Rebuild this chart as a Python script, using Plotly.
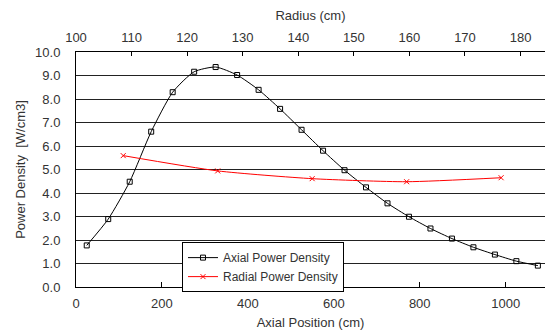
import plotly.graph_objects as go

axial_pos = [25, 75, 125, 175, 225, 275, 325, 375, 425, 475, 525, 575, 625, 675,
             725, 775, 825, 875, 925, 975, 1025, 1075]
axial_pd = [1.77, 2.89, 4.48, 6.61, 8.29, 9.16, 9.36, 9.02, 8.39, 7.58, 6.69, 5.80,
            4.97, 4.24, 3.56, 2.99, 2.49, 2.06, 1.69, 1.38, 1.10, 0.91]
radius = [108.5, 125.5, 142.5, 159.5, 176.5]
radial_pd = [5.59, 4.94, 4.61, 4.48, 4.65]

FONT = "Liberation Sans"
TXT = "#333333"
FS = 13

fig = go.Figure()
fig.add_trace(go.Scatter(
    x=axial_pos, y=axial_pd, name="Axial Power Density", mode="lines+markers",
    line=dict(color="black", width=1, shape="spline", smoothing=0.6),
    marker=dict(symbol="square-open", size=5, color="black", line=dict(width=1)),
    cliponaxis=False, xaxis="x", yaxis="y"))
fig.add_trace(go.Scatter(
    x=radius, y=radial_pd, name="Radial Power Density", mode="lines+markers",
    line=dict(color="red", width=1, shape="spline", smoothing=0.6),
    marker=dict(symbol="x-thin-open", size=5, color="red", line=dict(width=1, color="red")),
    xaxis="x2", yaxis="y"))

fig.update_layout(
    width=545, height=331,
    margin=dict(l=76, r=0, t=52, b=44, autoexpand=False),
    paper_bgcolor="white", plot_bgcolor="white",
    font=dict(family=FONT, size=FS, color=TXT),
    showlegend=True,
    legend=dict(x=0.226, y=0.191, xanchor="left", yanchor="top",
                bgcolor="white", bordercolor="black", borderwidth=1,
                font=dict(family=FONT, size=12, color=TXT),
                itemwidth=30, tracegroupgap=0),
    xaxis=dict(range=[0, 1091.6], tickvals=[0, 200, 400, 600, 800, 1000],
               ticks="inside", ticklen=5, tickcolor="black", automargin=False,
               showline=True, linecolor="black", linewidth=1, mirror=False,
               showgrid=False, zeroline=False, ticklabelstandoff=4,
               title=dict(text="Axial Position (cm)", standoff=8,
                          font=dict(family=FONT, size=FS, color=TXT)),
               tickfont=dict(family=FONT, size=FS, color=TXT)),
    xaxis2=dict(range=[100, 184.4], tickvals=[100, 110, 120, 130, 140, 150, 160, 170, 180],
                overlaying="x", side="top", anchor="y", automargin=False,
                ticks="inside", ticklen=4, tickcolor="black",
                showline=True, linecolor="black", linewidth=1,
                showgrid=False, zeroline=False, ticklabelstandoff=4,
                title=dict(text="Radius (cm)", standoff=6,
                           font=dict(family=FONT, size=FS, color=TXT)),
                tickfont=dict(family=FONT, size=FS, color=TXT)),
    yaxis=dict(range=[0, 10], tickvals=[i for i in range(11)], tickformat=".1f",
               showline=True, linecolor="black", linewidth=1, automargin=False,
               showgrid=True, gridcolor="#222222", gridwidth=1, zeroline=False,
               ticks="", ticklabelstandoff=12,
               title=dict(text="Power Density  [W/cm3]", standoff=6,
                          font=dict(family=FONT, size=FS, color=TXT)),
               tickfont=dict(family=FONT, size=FS, color=TXT)),
)

fig.write_html("out.html", config={"displayModeBar": False},
               post_script="document.body.style.margin='0';document.body.style.padding='0';")
